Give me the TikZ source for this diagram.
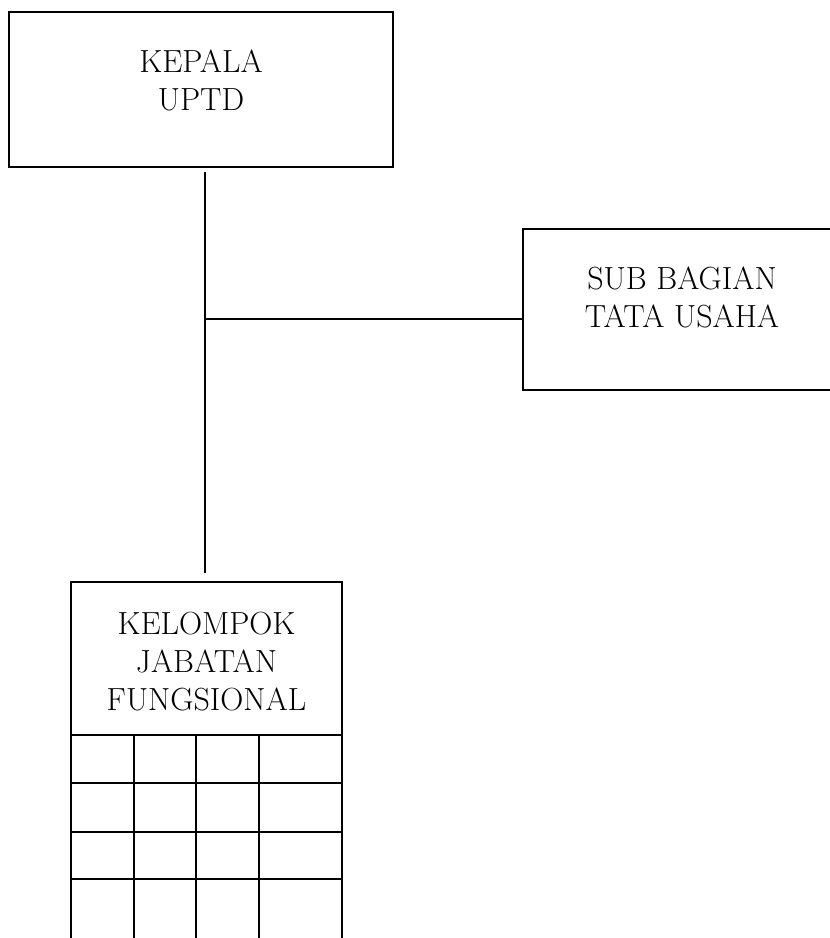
\documentclass[tikz,border=0pt]{standalone}
\usetikzlibrary{positioning}

\tikzset{
  unitbox/.style={draw, rectangle, line width=1pt, inner sep=0pt},
  unittext/.style={align=center, inner sep=0pt, anchor=north, font=\fontsize{16pt}{19pt}\selectfont},
  link/.style={line width=1pt}
}

\begin{document}
\begin{tikzpicture}[x=0.5pt,y=-0.5pt]
  \useasboundingbox (0,0) rectangle (830,938);
  \clip (0,0) rectangle (830,938);
  % kepala uptd
  \node [unitbox, minimum width=192pt, minimum height=77.5pt] (kepala) at (201,89.5) {};
  \node [unittext, below=19pt of kepala.north] (kepalatext) {KEPALA\\UPTD};
  % sub bagian tata usaha
  \node [unitbox, minimum width=159pt, minimum height=80.5pt] (subbag) at (682,309.5) {};
  \node [unittext, below=19pt of subbag.north] (subbagtext) {SUB BAGIAN\\TATA USAHA};
  % kelompok jabatan fungsional
  \node [unitbox, minimum width=135.5pt, minimum height=76.5pt] (kjf) at (206.5,658.5) {};
  \node [unittext, below=15.5pt of kjf.north] (kjftext) {KELOMPOK\\JABATAN\\FUNGSIONAL};
  % grid below kelompok
  \foreach \gx in {71,134,196,259,342}
    \draw [link] (\gx,735) -- (\gx,990);
  \foreach \gy in {783,832,879}
    \draw [link] (71,\gy) -- (342,\gy);
  % trunk and branch
  \coordinate (trunktop) at (205,172);
  \coordinate (trunkend) at (205,573);
  \coordinate (branch) at (205,319);
  \draw [link] (trunktop) -- (trunkend);
  \draw [link] (branch) -- (branch -| subbag.west);
\end{tikzpicture}
\end{document}
